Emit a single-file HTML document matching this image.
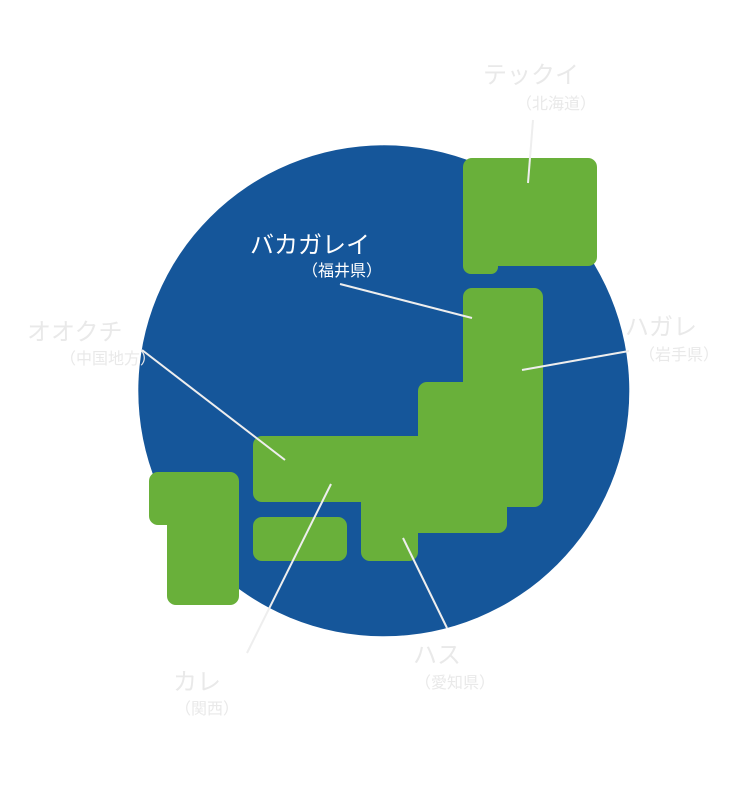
<!DOCTYPE html>
<html>
<head>
<meta charset="utf-8">
<style>
  html,body{margin:0;padding:0;background:#fff;}
  #wrap{position:relative;width:753px;height:810px;overflow:hidden;background:#fff;}
  svg{position:absolute;left:0;top:0;}
  .t{position:absolute;white-space:nowrap;font-family:"Liberation Sans","Noto Sans CJK JP",sans-serif;color:#e9e9e9;}
  .big{font-size:24px;line-height:24px;}
  .sm{font-size:16px;line-height:16px;}
  .w{color:#ffffff;}
</style>
</head>
<body>
<div id="wrap">
<svg width="753" height="810" viewBox="0 0 753 810" xmlns="http://www.w3.org/2000/svg">
  <circle cx="383.8" cy="390.8" r="245.5" fill="#15569a"/>
  <!-- Hokkaido -->
  <path fill="#69b03a" d="M463,167 A9,9 0 0 1 472,158 L588,158 A9,9 0 0 1 597,167 L597,257 A9,9 0 0 1 588,266 L498,266 L498,267 A7,7 0 0 1 491,274 L471,274 A8,8 0 0 1 463,266 Z"/>
  <!-- Honshu -->
  <path fill="#69b03a" d="M463,297 A9,9 0 0 1 472,288 L534,288 A9,9 0 0 1 543,297 L543,498 A9,9 0 0 1 534,507 L507,507 L507,524 A9,9 0 0 1 498,533 L418,533 L418,552 A9,9 0 0 1 409,561 L370,561 A9,9 0 0 1 361,552 L361,502 L262,502 A9,9 0 0 1 253,493 L253,445 A9,9 0 0 1 262,436 L418,436 L418,391 A9,9 0 0 1 427,382 L463,382 Z"/>
  <!-- Shikoku -->
  <rect x="253" y="517" width="94" height="44" rx="9" ry="9" fill="#69b03a"/>
  <!-- Kyushu -->
  <path fill="#69b03a" d="M149,481 A9,9 0 0 1 158,472 L230,472 A9,9 0 0 1 239,481 L239,596 A9,9 0 0 1 230,605 L176,605 A9,9 0 0 1 167,596 L167,525 L158,525 A9,9 0 0 1 149,516 Z"/>
  <!-- leader lines -->
  <g stroke="#eeeeee" stroke-width="2" fill="none">
    <line x1="533" y1="120" x2="528" y2="183"/>
    <line x1="340" y1="284" x2="472" y2="318"/>
    <line x1="522" y1="370" x2="629" y2="351"/>
    <line x1="142" y1="350" x2="285" y2="460"/>
    <line x1="331" y1="484" x2="247" y2="653"/>
    <line x1="403" y1="538" x2="447" y2="628"/>
  </g>
</svg>

<div class="t big" style="left:483px;top:64px;">テックイ</div>
<div class="t sm" style="left:516px;top:97px;">（北海道）</div>

<div class="t big" style="left:27px;top:321px;">オオクチ</div>
<div class="t sm" style="left:60px;top:352px;">（中国地方）</div>

<div class="t big w" style="left:250px;top:234px;">バカガレイ</div>
<div class="t sm w" style="left:302px;top:264px;">（福井県）</div>

<div class="t big" style="left:625px;top:316px;">ハガレ</div>
<div class="t sm" style="left:639px;top:348px;">（岩手県）</div>

<div class="t big" style="left:413px;top:644px;">ハス</div>
<div class="t sm" style="left:415px;top:676px;">（愛知県）</div>

<div class="t big" style="left:173px;top:671px;">カレ</div>
<div class="t sm" style="left:175px;top:702px;">（関西）</div>
</div>
</body>
</html>
